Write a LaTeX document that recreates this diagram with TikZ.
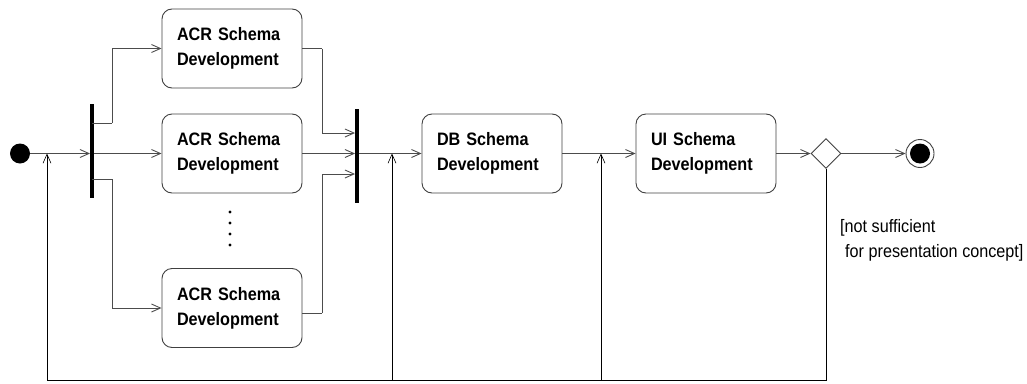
\documentclass[tikz,border=0pt]{standalone}
\usepackage{fontspec}
\setmainfont{Liberation Sans}[FakeStretch=0.9]
\usetikzlibrary{arrows.meta,shapes.geometric}
\tikzset{
  flow/.style={draw=black!70, line width=0.9pt, -{Straight Barb[length=9pt,width=8pt]}},
  link/.style={draw=black!70, line width=0.9pt},
  back/.style={draw=black, line width=0.6pt},
  backflow/.style={back, -{Straight Barb[length=9pt,width=8pt]}},
  activity/.style={draw=black!75, line width=0.9pt, rounded corners=10pt,
    minimum width=140pt, minimum height=79pt, text width=110pt, inner sep=0pt,
    align=left, font=\bfseries\fontsize{18}{25}\selectfont},
  bar/.style={fill=black, draw=none, minimum width=3.5pt, inner sep=0pt},
  guard/.style={font=\fontsize{18}{25}\selectfont, align=left, inner sep=0pt}
}
\begin{document}
\begin{tikzpicture}[x=1pt, y=-1pt]
\useasboundingbox (0,0) rectangle (1027,383);

% initial and final states
\node[circle, fill=black, minimum size=20pt, inner sep=0pt] (start) at (20,153.5) {};
\node[circle, draw=black!75, line width=0.9pt, minimum size=28pt, inner sep=0pt] (final) at (920,153.5) {};
\node[circle, fill=black, minimum size=20pt, inner sep=0pt] (finaldot) at (final) {};

% fork and join bars
\node[bar, minimum height=94pt] (fork) at (92,151) {};
\node[bar, minimum height=94pt] (join) at (357,156) {};

% activities
\node[activity] (acr1) at (232,48.5) {ACR Schema\\Development};
\node[activity] (acr2) at (232,153.5) {ACR Schema\\Development};
\node[activity] (acr3) at (232,308) {ACR Schema\\Development};
\node[activity] (db) at (492,153.5) {DB Schema\\Development};
\node[activity] (ui) at (706,153.5) {UI Schema\\Development};

% decision
\node[diamond, draw=black!75, line width=0.9pt, minimum size=30pt, inner sep=0pt, aspect=1] (dec) at (826,153.5) {};

% ellipsis between the parallel activities
\foreach \y in {212,223,234,245}
  \fill (230,\y) circle (1.6pt);

% guard text
\node[guard, anchor=north west] (cond) at (840,219) {[not sufficient\\\hspace{5pt}for presentation concept]};

% bend points
\coordinate (fu) at (92,123);
\coordinate (fd) at (92,179);
\coordinate (fuc) at (112,123);
\coordinate (fdc) at (112,179);
\coordinate (ju) at (357,133);
\coordinate (jd) at (357,174);
\coordinate (ju1) at (322,48.5);
\coordinate (jd1) at (322,313);
\coordinate (a3out) at (acr3.east |- jd1);
\coordinate (m0) at (47,153.5);
\coordinate (m1) at (392,153.5);
\coordinate (m2) at (601,153.5);
\coordinate (b0) at (47,380);
\coordinate (b1) at (392,380);
\coordinate (b2) at (601,380);
\coordinate (b3) at (826,380);

% main flow
\draw[flow] (start) -- (fork.west |- start);
\draw[flow] (fork.east |- acr2) -- (acr2.west);
\draw[link] (fu) -- (fuc);
\draw[flow] (fuc) |- (acr1.west);
\draw[link] (fd) -- (fdc);
\draw[flow] (fdc) |- (acr3.west);
\draw[link] (acr1.east) -- (ju1);
\draw[flow] (ju1) |- (join.west |- ju);
\draw[flow] (acr2.east) -- (join.west |- acr2);
\draw[link] (a3out) -- (jd1);
\draw[flow] (jd1) |- (join.west |- jd);
\draw[flow] (join.east |- db) -- (db.west);
\draw[flow] (db.east) -- (ui.west);
\draw[flow] (ui.east) -- (dec.west);
\draw[flow] (dec.east) -- (final.west);

% loop back
\draw[back] (dec.south) -- (b3) -- (b0);
\draw[backflow] (b0) -- (m0);
\draw[backflow] (b1) -- (m1);
\draw[backflow] (b2) -- (m2);
\end{tikzpicture}
\end{document}
